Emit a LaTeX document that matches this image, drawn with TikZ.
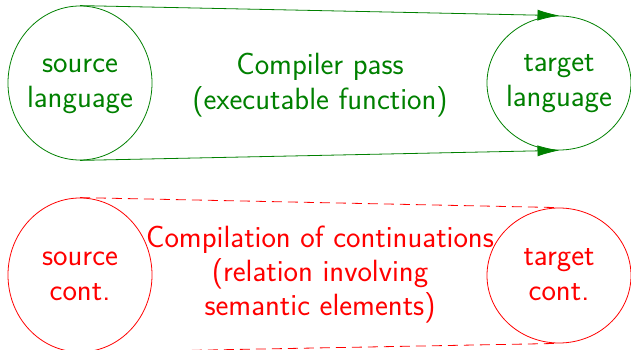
\documentclass[tikz,border=0pt]{standalone}
\usetikzlibrary{shapes.geometric,arrows.meta}
\definecolor{dgreen}{RGB}{0,128,0}
\begin{document}
\begin{tikzpicture}[x=1pt,y=-1pt,
  blob/.style={ellipse,draw,line width=0.8pt,inner sep=0pt},
  lbl/.style={align=center,font=\sffamily\fontsize{30.7}{35}\selectfont,inner sep=0pt},
  arr/.style={line width=0.8pt,-{Latex[length=22pt,width=11pt]},shorten >=-0.5pt},
  dsh/.style={line width=0.8pt,dash pattern=on 10pt off 6pt}]
\useasboundingbox (0,0) rectangle (631,350);
% green row
\node[blob,dgreen,minimum width=144pt,minimum height=154pt] (sl) at (80,83) {};
\node[blob,dgreen,minimum width=144pt,minimum height=134pt] (tl) at (559,83) {};
\node[lbl,text=dgreen] (slt) at (80,86) {source\\language};
\node[lbl,text=dgreen] (tlt) at (559,84) {target\\language};
\node[lbl,text=dgreen] (cp) at (320,85) {Compiler pass\\(executable function)};
\draw[arr,dgreen] (sl.north) -- (tl.north);
\draw[arr,dgreen] (sl.south) -- (tl.south);
% red row
\node[blob,red,minimum width=144pt,minimum height=154pt] (sc) at (80,275) {};
\node[blob,red,minimum width=144pt,minimum height=135pt] (tc) at (559,275.5) {};
\node[lbl,text=red] (sct) at (80,276) {source\\cont.};
\node[lbl,text=red] (tct) at (559,275) {target\\cont.};
\node[lbl,text=red,font=\sffamily\fontsize{30.7}{34}\selectfont] (cc) at (320,275) {Compilation of continuations\\(relation involving\\semantic elements)};
\draw[dsh,red] (sc.north) -- (tc.north);
\draw[dsh,red] (sc.south) -- (tc.south);
\end{tikzpicture}
\end{document}
